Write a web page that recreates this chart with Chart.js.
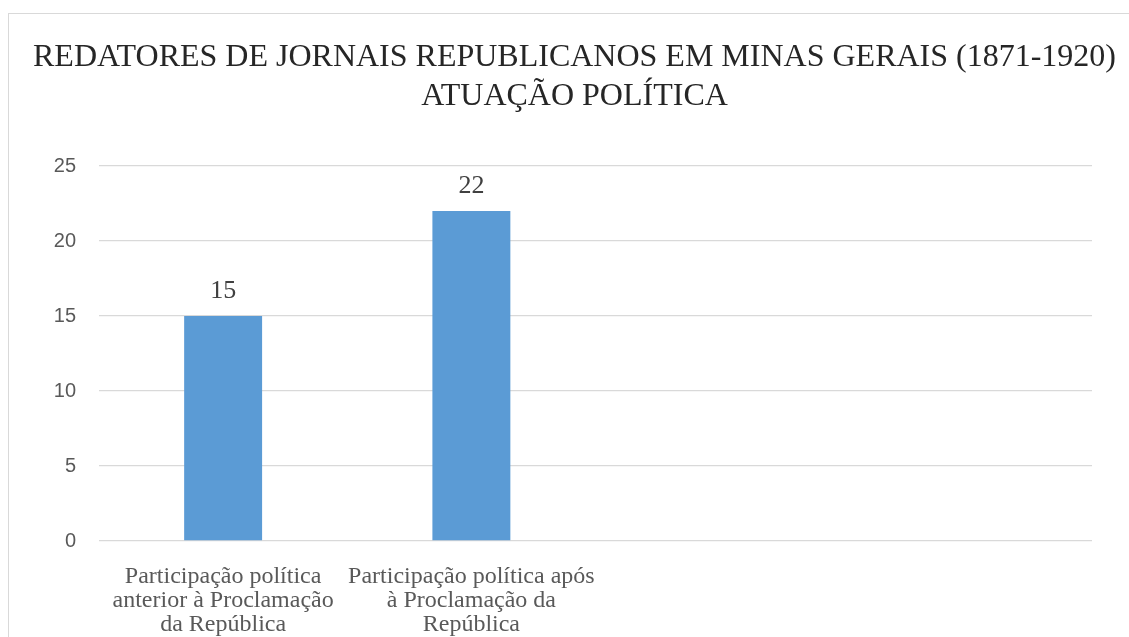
<!DOCTYPE html>
<html lang="pt-BR">
<head>
    <meta charset="UTF-8">
    <title>Redatores de jornais republicanos em Minas Gerais</title>
    <script src="https://cdn.jsdelivr.net/npm/chart.js"></script>
    <style>
        html, body {
            margin: 0;
            padding: 0;
            background: #ffffff;
            overflow: hidden;
            width: 1129px;
            height: 637px;
        }
        #box {
            position: absolute;
            left: 8px;
            top: 13px;
            width: 1131px;
            height: 640px;
            border: 1px solid #d9d9d9;
            background: #ffffff;
        }
        #box canvas {
            display: block;
        }
    </style>
</head>
<body>
    <div id="box"><canvas id="myChart" width="1131" height="640"></canvas></div>

    <script>
        // dados
        const categorias = [
            ['Participação política', 'anterior à Proclamação', 'da República'],
            ['Participação política após', 'à Proclamação da', 'República'],
            '',
            ''
        ];
        const valores = [15, 22, null, null];
        const ticksY = [0, 5, 10, 15, 20, 25];
        const titulo = ['REDATORES DE JORNAIS REPUBLICANOS EM MINAS GERAIS (1871-1920)', 'ATUAÇÃO POLÍTICA'];

        const SERIF = 'Liberation Serif';
        const SANS = 'Liberation Sans';

        // rótulos de dados acima das barras (sem plugin externo)
        const rotulos = {
            id: 'rotulos',
            afterDatasetsDraw(chart) {
                const ctx = chart.ctx;
                const meta = chart.getDatasetMeta(0);
                ctx.save();
                ctx.font = '26px ' + SERIF;
                ctx.fillStyle = '#404040';
                ctx.textAlign = 'center';
                ctx.textBaseline = 'alphabetic';
                meta.data.forEach((bar, i) => {
                    const v = chart.data.datasets[0].data[i];
                    if (v === null || v === undefined) return;
                    ctx.fillText(String(v), bar.x, bar.y - 18);
                });
                ctx.restore();
            }
        };

        const ctx = document.getElementById('myChart').getContext('2d');
        const myChart = new Chart(ctx, {
            type: 'bar',
            data: {
                labels: categorias,
                datasets: [{
                    data: valores,
                    backgroundColor: '#5b9bd5',
                    borderWidth: 0,
                    categoryPercentage: 1,
                    barPercentage: 0.314
                }]
            },
            options: {
                responsive: false,
                animation: false,
                layout: {
                    padding: 0
                },
                plugins: {
                    legend: { display: false },
                    tooltip: { enabled: false },
                    title: {
                        display: true,
                        text: titulo,
                        color: '#262626',
                        font: { family: SERIF, size: 32, weight: 'normal', lineHeight: 1.22 },
                        padding: { top: 24, bottom: 50 }
                    }
                },
                scales: {
                    x: {
                        grid: { display: false },
                        border: { display: false },
                        ticks: {
                            autoSkip: false,
                            maxRotation: 0,
                            minRotation: 0,
                            padding: 16,
                            color: '#595959',
                            font: { family: SERIF, size: 24, lineHeight: 0.99 }
                        },
                        afterFit(scale) { scale.height = 113; }
                    },
                    y: {
                        min: 0,
                        max: 25,
                        afterBuildTicks(scale) { scale.ticks = ticksY.map(v => ({ value: v })); },
                        grid: { color: '#d9d9d9', lineWidth: 1.3, drawTicks: false },
                        border: { display: false },
                        ticks: {
                            padding: 23,
                            color: '#595959',
                            font: { family: SANS, size: 20 }
                        },
                        afterFit(scale) { scale.width = 90; }
                    },
                    // eixo vazio à direita, só para reservar a margem
                    margemDireita: {
                        type: 'linear',
                        position: 'right',
                        grid: { display: false, drawTicks: false },
                        border: { display: false },
                        ticks: { display: false },
                        afterFit(scale) { scale.width = 48; }
                    }
                }
            },
            plugins: [rotulos]
        });
    </script>
</body>
</html>
